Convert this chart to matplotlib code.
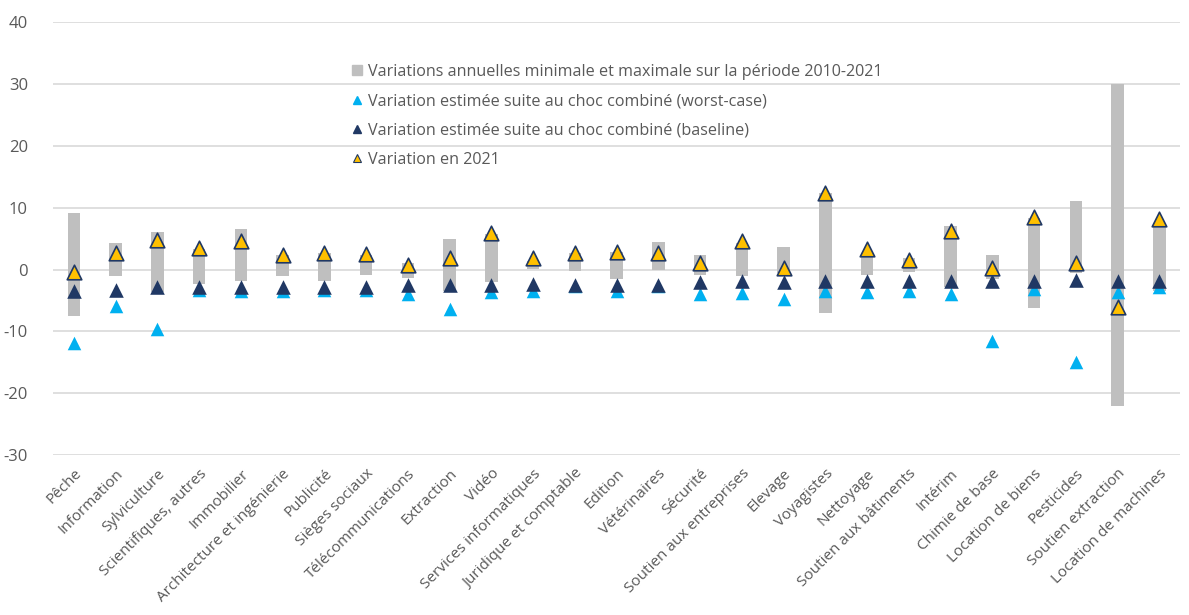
import matplotlib.pyplot as plt
import numpy as np
from matplotlib.lines import Line2D

plt.rcParams["font.family"] = ["Open Sans", "DejaVu Sans"]
plt.rcParams["axes.unicode_minus"] = False

SECTORS = [
    "Pêche", "Information", "Sylviculture", "Scientifiques, autres", "Immobilier",
    "Architecture et ingénierie", "Publicité", "Sièges sociaux", "Télécommunications",
    "Extraction", "Vidéo", "Services informatiques", "Juridique et comptable", "Edition",
    "Vétérinaires", "Sécurité", "Soutien aux entreprises", "Elevage", "Voyagistes",
    "Nettoyage", "Soutien aux bâtiments", "Intérim", "Chimie de base", "Location de biens",
    "Pesticides", "Soutien extraction", "Location de machines",
]
range_min = [-7.5, -1.0, -3.7, -2.3, -1.8, -1.0, -1.8, -0.9, -1.3, -3.5, -2.0, 0.1, -0.2, -1.6,
             0.0, -0.9, -1.1, -0.6, -7.1, -0.9, -0.4, -2.9, -1.5, -6.2, -0.5, -22.1, -3.5]
range_max = [9.2, 4.3, 6.0, 3.4, 6.5, 2.4, 2.6, 2.4, 1.1, 4.9, 5.8, 1.4, 2.7, 2.9,
             4.5, 2.3, 4.3, 3.7, 12.3, 2.6, 1.8, 7.1, 2.3, 8.3, 11.1, 30.0, 7.6]
worst_case = [-11.8, -5.9, -9.6, -3.3, -3.5, -3.4, -3.3, -3.3, -3.9, -6.3, -3.7, -3.5, -2.6, -3.4,
              -2.7, -4.0, -3.8, -4.7, -3.4, -3.7, -3.5, -3.9, -11.5, -3.2, -15.0, -3.7, -2.9]
baseline = [-3.5, -3.3, -2.9, -2.9, -2.9, -2.9, -2.9, -2.8, -2.5, -2.5, -2.5, -2.4, -2.5, -2.5,
            -2.5, -2.0, -1.9, -2.0, -1.9, -1.9, -1.9, -1.9, -1.9, -1.9, -1.7, -1.8, -1.8]
var_2021 = [-0.4, 2.6, 4.8, 3.5, 4.6, 2.4, 2.7, 2.5, 0.8, 1.9, 5.9, 1.8, 2.7, 2.9,
            2.7, 1.0, 4.6, 0.3, 12.4, 3.3, 1.5, 6.3, 0.2, 8.5, 1.0, -6.0, 8.1]

GREY = "#BFBFBF"
LIGHT_BLUE = "#00B0F0"
NAVY = "#203864"
GOLD = "#FFC000"
TEXT = "#595959"

x = np.arange(len(SECTORS))
lo = np.array(range_min)
hi = np.array(range_max)

fig = plt.figure(figsize=(11.89, 6.15), dpi=100)
ax = fig.add_axes([0.0446, 0.260, 0.948, 0.704])

# min/max range as floating bars, then the three marker series on top
ax.bar(x, hi - lo, bottom=lo, width=0.3, color=GREY, zorder=2)
ax.scatter(x, worst_case, marker="^", s=95, color=LIGHT_BLUE, linewidths=0, zorder=3)
ax.scatter(x, baseline, marker="^", s=110, color=NAVY, linewidths=0, zorder=4)
ax.scatter(x, var_2021, marker="^", s=110, color=GOLD, edgecolors=NAVY, linewidths=1.2, zorder=5)

ax.set_xlim(-0.5, len(SECTORS) - 0.5)
ax.set_ylim(-30, 40)
ax.set_yticks(np.arange(-30, 41, 10))
ax.grid(axis="y", color="#D9D9D9", linewidth=1.2, zorder=0)
ax.set_axisbelow(True)
for spine in ax.spines.values():
    spine.set_visible(False)
ax.tick_params(axis="both", length=0, labelcolor=TEXT)
ax.tick_params(axis="y", pad=18, labelsize=12)
ax.set_xticks(x)
ax.set_xticklabels(SECTORS, rotation=45, ha="right", rotation_mode="anchor")
ax.tick_params(axis="x", pad=8, labelsize=11)

handles = [
    Line2D([], [], linestyle="none", marker="s", markersize=7, color=GREY),
    Line2D([], [], linestyle="none", marker="^", markersize=6, color=LIGHT_BLUE),
    Line2D([], [], linestyle="none", marker="^", markersize=6, color=NAVY),
    Line2D([], [], linestyle="none", marker="^", markersize=6, markerfacecolor=GOLD,
           markeredgecolor=NAVY, markeredgewidth=0.8),
]
labels = [
    "Variations annuelles minimale et maximale sur la période 2010-2021",
    "Variation estimée suite au choc combiné (worst-case)",
    "Variation estimée suite au choc combiné (baseline)",
    "Variation en 2021",
]
leg = ax.legend(handles, labels, loc="upper left", bbox_to_anchor=(342 / 1189, 1 - 56 / 615),
                bbox_transform=fig.transFigure, frameon=False, fontsize=11.6,
                handlelength=0.8, handletextpad=0.3, labelspacing=0.82, borderpad=0)
for t in leg.get_texts():
    t.set_color(TEXT)

fig.savefig("out.png", dpi=100)
